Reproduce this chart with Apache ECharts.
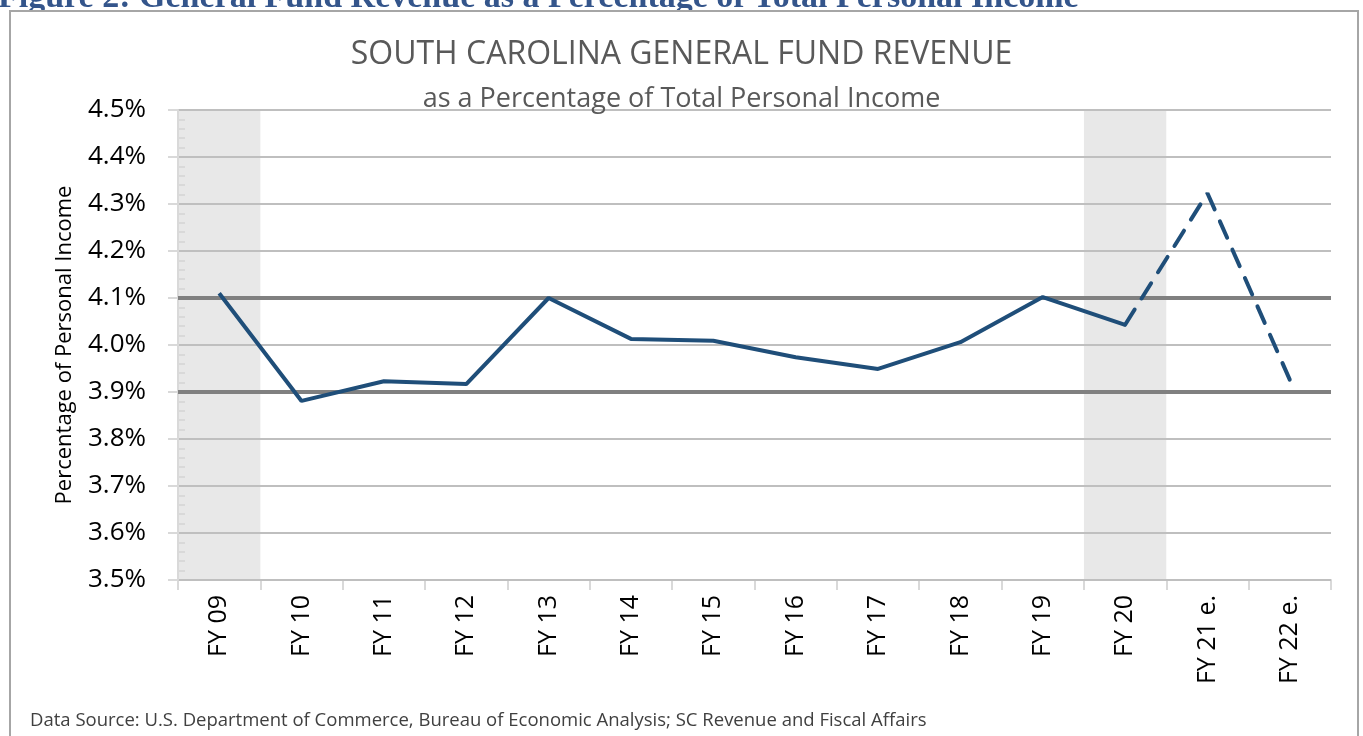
<!DOCTYPE html>
<html>
<head>
<meta charset="utf-8">
<script src="https://cdn.jsdelivr.net/npm/echarts@6/dist/echarts.min.js"></script>
<style>
  html, body { margin: 0; padding: 0; background: #fff; }
  #chart { width: 1363px; height: 736px; }
</style>
</head>
<body>
<div id="chart"></div>
<script>
// Données
const categories = ['FY 09', 'FY 10', 'FY 11', 'FY 12', 'FY 13', 'FY 14', 'FY 15',
  'FY 16', 'FY 17', 'FY 18', 'FY 19', 'FY 20', 'FY 21 e.', 'FY 22 e.'];
const actual = [4.11, 3.881, 3.923, 3.917, 4.100, 4.013, 4.009, 3.974, 3.949, 4.006, 4.102, 4.043, null, null];
const estimate = [null, null, null, null, null, null, null, null, null, null, null, 4.043, 4.323, 3.926];
const recession = [4.5, null, null, null, null, null, null, null, null, null, null, 4.5, null, null];
const refLines = [4.1, 3.9];

const chart = echarts.init(document.getElementById('chart'), null, { renderer: 'canvas' });

const font = 'Open Sans';

const option = {
  animation: false,
  title: [
    {
      text: 'SOUTH CAROLINA GENERAL FUND REVENUE',
      left: 'center',
      top: 32,
      textStyle: { fontFamily: font, fontSize: 32, fontWeight: 'normal', color: '#595959', lineHeight: 36 }
    },
    {
      text: 'as a Percentage of Total Personal Income',
      left: 'center',
      top: 78,
      textStyle: { fontFamily: font, fontSize: 27, fontWeight: 'normal', color: '#595959', lineHeight: 32 }
    }
  ],
  graphic: [
    {
      type: 'text',
      left: -2,
      top: -19,
      style: {
        text: 'Figure 2: General Fund Revenue as a Percentage of Total Personal Income',
        font: 'bold 34px "Liberation Serif"',
        fill: '#34558b'
      }
    },
    {
      type: 'rect',
      shape: { x: 10, y: 11, width: 1348, height: 800 },
      style: { fill: '#fff', stroke: '#a6a6a6', lineWidth: 2 },
      silent: true
    },
    {
      type: 'text',
      left: 30,
      top: 711,
      style: {
        text: 'Data Source: U.S. Department of Commerce, Bureau of Economic Analysis; SC Revenue and Fiscal Affairs',
        font: '18.5px "Open Sans"',
        fill: '#404040'
      }
    }
  ],
  grid: {
    left: 178, right: 32, top: 110, bottom: 156,
    show: true, borderColor: '#d9d9d9', borderWidth: 1
  },
  xAxis: {
    type: 'category',
    data: categories,
    axisLine: { lineStyle: { color: '#d9d9d9', width: 2 } },
    axisTick: { show: true, length: 10, lineStyle: { color: '#d9d9d9', width: 2 } },
    axisLabel: { rotate: 90, margin: 15, fontFamily: font, fontSize: 25, color: '#000' }
  },
  yAxis: [
    {
      type: 'value',
      min: 3.5, max: 4.5, interval: 0.1,
      z: 3,
      name: 'Percentage of Personal Income',
      nameLocation: 'middle',
      nameGap: 102,
      nameTextStyle: { fontFamily: font, fontSize: 22, color: '#000' },
      axisLine: { show: true, lineStyle: { color: '#d9d9d9', width: 2 } },
      axisTick: { show: true, length: 10, lineStyle: { color: '#d9d9d9', width: 2 } },
      axisLabel: {
        margin: 32, fontFamily: font, fontSize: 26, color: '#000',
        formatter: v => v.toFixed(1) + '%'
      },
      splitLine: { lineStyle: { color: '#bfbfbf', width: 2 } }
    },
    {
      type: 'value',
      min: 3.5, max: 4.5, interval: 0.1,
      position: 'left',
      z: 3,
      axisLine: { show: false },
      axisTick: { show: false, inside: true },
      axisLabel: { show: false },
      splitLine: { show: false },
      minorTick: { show: true, splitNumber: 5, length: 7, lineStyle: { color: '#d9d9d9', width: 2 } }
    }
  ],
  series: [
    {
      name: 'recession',
      type: 'bar',
      data: recession,
      z: 1,
      barWidth: '100%',
      itemStyle: { color: '#e8e8e8' },
      silent: true,
      markLine: {
        z: 4,
        silent: true,
        symbol: 'none',
        label: { show: false },
        lineStyle: { color: '#808080', width: 4, type: 'solid' },
        data: refLines.map(v => ({ yAxis: v }))
      }
    },
    {
      name: 'actual',
      type: 'line',
      data: actual,
      z: 6,
      showSymbol: false,
      symbol: 'none',
      lineStyle: { color: '#1f4e79', width: 4 }
    },
    {
      name: 'estimate',
      type: 'line',
      data: estimate,
      z: 6,
      showSymbol: false,
      symbol: 'none',
      lineStyle: { color: '#1f4e79', width: 4, type: [18, 13], cap: 'round' }
    }
  ]
};

chart.setOption(option);
window.addEventListener('resize', chart.resize);
</script>
</body>
</html>
